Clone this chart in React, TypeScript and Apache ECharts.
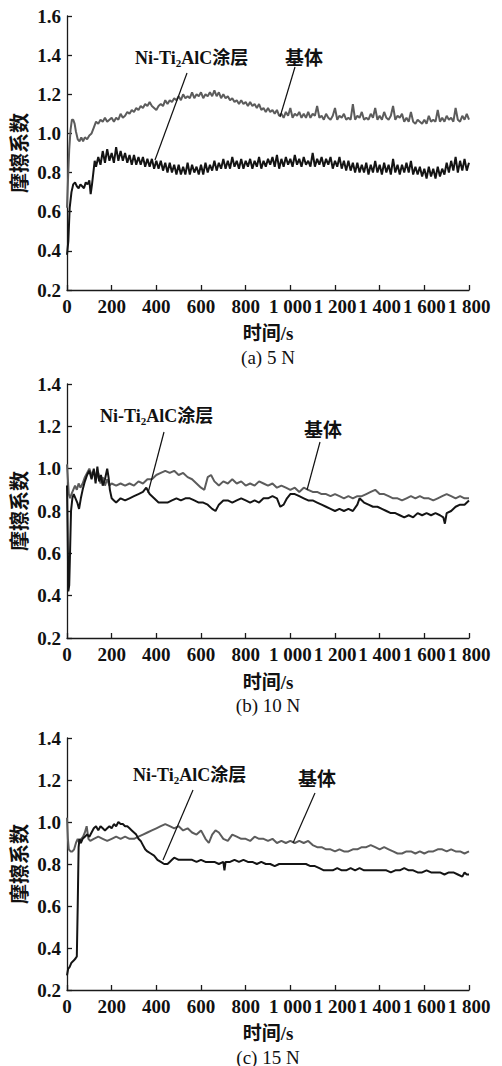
import React, { useEffect, useRef } from "react";
import * as echarts from "echarts";

// ---------- data (time s, friction coefficient) ----------
// (a) 5 N
const substrate5N: [number, number][] = [
  [0, 0.62], [5, 0.78], [10, 0.92], [16, 1.02], [22, 1.07], [28, 1.07], [34, 1.05], [40, 1.01], [48, 0.97], [56, 0.96],
  [64, 0.98], [72, 0.96], [80, 0.98], [90, 0.97], [100, 0.99], [110, 1.0], [120, 1.03], [130, 1.06],
  [140, 1.05], [150, 1.07], [160, 1.06], [170, 1.08], [180, 1.06], [190, 1.07], [200, 1.08], [210, 1.06], [220, 1.08],
  [230, 1.07], [240, 1.1], [250, 1.08], [260, 1.09], [270, 1.11], [280, 1.1], [290, 1.12], [300, 1.11], [310, 1.13],
  [320, 1.12], [330, 1.14], [340, 1.13], [350, 1.15], [360, 1.14], [370, 1.16], [380, 1.14], [390, 1.13], [400, 1.12],
  [410, 1.14], [420, 1.15], [430, 1.14], [440, 1.17], [450, 1.15], [460, 1.17], [470, 1.16], [480, 1.18], [490, 1.17],
  [500, 1.19], [510, 1.17], [520, 1.2], [530, 1.18], [540, 1.19], [550, 1.18], [560, 1.21], [570, 1.18], [580, 1.2],
  [590, 1.19], [600, 1.21], [610, 1.18], [620, 1.2], [630, 1.19], [640, 1.21], [650, 1.19], [660, 1.22], [670, 1.19],
  [680, 1.21], [690, 1.18], [700, 1.2], [710, 1.18], [720, 1.19], [730, 1.17], [740, 1.18], [750, 1.16], [760, 1.17],
  [770, 1.15], [780, 1.17], [790, 1.15], [800, 1.16], [810, 1.14], [820, 1.16], [830, 1.14], [840, 1.15], [850, 1.13],
  [860, 1.15], [870, 1.12], [880, 1.13], [890, 1.11], [900, 1.13], [910, 1.11], [920, 1.12], [930, 1.1], [940, 1.12],
  [950, 1.09], [960, 1.1], [970, 1.08], [980, 1.11], [990, 1.09], [1000, 1.13], [1010, 1.08], [1020, 1.1], [1030, 1.09],
  [1040, 1.11], [1050, 1.08], [1060, 1.1], [1070, 1.08], [1080, 1.11], [1090, 1.08], [1100, 1.1], [1110, 1.09],
  [1120, 1.14], [1130, 1.08], [1140, 1.09], [1150, 1.07], [1160, 1.1], [1170, 1.08], [1180, 1.07], [1190, 1.09],
  [1200, 1.13], [1210, 1.07], [1220, 1.09], [1230, 1.08], [1240, 1.1], [1250, 1.07], [1260, 1.08], [1270, 1.07],
  [1280, 1.15], [1290, 1.07], [1300, 1.09], [1310, 1.08], [1320, 1.11], [1330, 1.07], [1340, 1.08], [1350, 1.07],
  [1360, 1.1], [1370, 1.08], [1380, 1.13], [1390, 1.07], [1400, 1.09], [1410, 1.07], [1420, 1.11], [1430, 1.08],
  [1440, 1.07], [1450, 1.09], [1460, 1.14], [1470, 1.07], [1480, 1.09], [1490, 1.08], [1500, 1.1], [1510, 1.06],
  [1520, 1.08], [1530, 1.06], [1540, 1.11], [1550, 1.06], [1560, 1.05], [1570, 1.07], [1580, 1.06], [1590, 1.05],
  [1600, 1.07], [1610, 1.05], [1620, 1.09], [1630, 1.06], [1640, 1.07], [1650, 1.06], [1660, 1.12], [1670, 1.06],
  [1680, 1.08], [1690, 1.06], [1700, 1.09], [1710, 1.07], [1720, 1.08], [1730, 1.06], [1740, 1.13], [1750, 1.07],
  [1760, 1.06], [1770, 1.09], [1780, 1.07], [1790, 1.1], [1800, 1.07],
];
const coating5N: [number, number][] = [
  [0, 0.38], [6, 0.45], [12, 0.62], [20, 0.7], [28, 0.74], [36, 0.75], [44, 0.73], [52, 0.72], [60, 0.74], [68, 0.73],
  [76, 0.72], [84, 0.75], [92, 0.74], [100, 0.76], [106, 0.69], [112, 0.74], [118, 0.8], [124, 0.86], [130, 0.83],
  [140, 0.88], [150, 0.84], [160, 0.91], [170, 0.85], [180, 0.92], [190, 0.86], [200, 0.9], [210, 0.85], [220, 0.93],
  [230, 0.86], [240, 0.91], [250, 0.86], [260, 0.9], [270, 0.85], [280, 0.89], [290, 0.84], [300, 0.89], [310, 0.84],
  [320, 0.88], [330, 0.84], [340, 0.88], [350, 0.83], [360, 0.87], [370, 0.83], [380, 0.87], [390, 0.82], [400, 0.86],
  [410, 0.82], [420, 0.86], [430, 0.81], [440, 0.85], [450, 0.8], [460, 0.85], [470, 0.8], [480, 0.84], [490, 0.79],
  [500, 0.84], [510, 0.79], [520, 0.83], [530, 0.79], [540, 0.85], [550, 0.79], [560, 0.84], [570, 0.8], [580, 0.83],
  [590, 0.79], [600, 0.84], [610, 0.79], [620, 0.85], [630, 0.8], [640, 0.84], [650, 0.81], [660, 0.86], [670, 0.81],
  [680, 0.85], [690, 0.82], [700, 0.87], [710, 0.82], [720, 0.86], [730, 0.82], [740, 0.88], [750, 0.83], [760, 0.86],
  [770, 0.82], [780, 0.87], [790, 0.82], [800, 0.86], [810, 0.83], [820, 0.87], [830, 0.82], [840, 0.86], [850, 0.83],
  [860, 0.88], [870, 0.82], [880, 0.86], [890, 0.83], [900, 0.87], [910, 0.84], [920, 0.88], [930, 0.83], [940, 0.89],
  [950, 0.82], [960, 0.87], [970, 0.83], [980, 0.88], [990, 0.84], [1000, 0.87], [1010, 0.83], [1020, 0.89],
  [1030, 0.84], [1040, 0.87], [1050, 0.83], [1060, 0.88], [1070, 0.84], [1080, 0.86], [1090, 0.83], [1100, 0.9],
  [1110, 0.83], [1120, 0.87], [1130, 0.84], [1140, 0.88], [1150, 0.83], [1160, 0.87], [1170, 0.84], [1180, 0.88],
  [1190, 0.82], [1200, 0.86], [1210, 0.83], [1220, 0.88], [1230, 0.82], [1240, 0.86], [1250, 0.81], [1260, 0.86],
  [1270, 0.81], [1280, 0.85], [1290, 0.8], [1300, 0.85], [1310, 0.8], [1320, 0.84], [1330, 0.8], [1340, 0.85],
  [1350, 0.79], [1360, 0.84], [1370, 0.8], [1380, 0.86], [1390, 0.8], [1400, 0.84], [1410, 0.79], [1420, 0.85],
  [1430, 0.8], [1440, 0.84], [1450, 0.79], [1460, 0.87], [1470, 0.8], [1480, 0.84], [1490, 0.79], [1500, 0.84],
  [1510, 0.8], [1520, 0.85], [1530, 0.8], [1540, 0.86], [1550, 0.79], [1560, 0.83], [1570, 0.79], [1580, 0.83],
  [1590, 0.78], [1600, 0.82], [1610, 0.77], [1620, 0.83], [1630, 0.78], [1640, 0.82], [1650, 0.77], [1660, 0.83],
  [1670, 0.78], [1680, 0.82], [1690, 0.79], [1700, 0.85], [1710, 0.8], [1720, 0.86], [1730, 0.81], [1740, 0.88],
  [1750, 0.8], [1760, 0.86], [1770, 0.81], [1780, 0.87], [1790, 0.81], [1800, 0.85],
];

// (b) 10 N
const substrate10N: [number, number][] = [
  [0, 1.02], [4, 0.95], [8, 0.88], [14, 0.86], [20, 0.88], [28, 0.9], [36, 0.92], [44, 0.9], [52, 0.93], [60, 0.91],
  [70, 0.93], [80, 0.96], [90, 0.98], [100, 1.0], [110, 0.97], [120, 0.99], [130, 0.95], [140, 0.98], [150, 0.93],
  [160, 0.96], [170, 0.92], [180, 0.95], [190, 0.92], [200, 0.93], [220, 0.92], [240, 0.93], [260, 0.92], [280, 0.93],
  [300, 0.92], [320, 0.94], [340, 0.93], [360, 0.95], [380, 0.95], [400, 0.97], [420, 0.98], [440, 0.99], [460, 0.98],
  [480, 0.99], [500, 0.97], [520, 0.98], [540, 0.96], [560, 0.95], [580, 0.93], [600, 0.91], [615, 0.9], [630, 0.96],
  [645, 0.97], [660, 0.94], [680, 0.92], [700, 0.94], [720, 0.93], [740, 0.95], [760, 0.93], [780, 0.94], [800, 0.92],
  [820, 0.93], [840, 0.92], [860, 0.94], [880, 0.93], [900, 0.92], [920, 0.93], [940, 0.91], [960, 0.92], [980, 0.91],
  [1000, 0.9], [1020, 0.91], [1040, 0.89], [1060, 0.91], [1080, 0.9], [1100, 0.89], [1120, 0.89], [1140, 0.88],
  [1160, 0.88], [1180, 0.87], [1200, 0.88], [1220, 0.87], [1240, 0.86], [1260, 0.87], [1280, 0.86], [1300, 0.87],
  [1320, 0.87], [1340, 0.88], [1360, 0.89], [1380, 0.9], [1400, 0.88], [1420, 0.88], [1440, 0.87], [1460, 0.86],
  [1480, 0.86], [1500, 0.85], [1520, 0.86], [1540, 0.87], [1560, 0.86], [1580, 0.87], [1600, 0.86], [1620, 0.86],
  [1640, 0.85], [1660, 0.86], [1680, 0.87], [1700, 0.88], [1720, 0.87], [1740, 0.86], [1760, 0.87], [1780, 0.86],
  [1800, 0.86],
];
const coating10N: [number, number][] = [
  [0, 0.92], [3, 0.7], [6, 0.42], [10, 0.45], [14, 0.62], [18, 0.8], [24, 0.86], [30, 0.88], [38, 0.86], [46, 0.84],
  [54, 0.81], [62, 0.86], [70, 0.9], [80, 0.94], [90, 0.97], [100, 0.99], [110, 0.95], [120, 1.0], [128, 0.93],
  [136, 1.01], [144, 0.94], [152, 0.97], [160, 0.92], [170, 0.95], [180, 1.0], [186, 0.96], [192, 0.9], [200, 0.86],
  [210, 0.85], [220, 0.84], [240, 0.86], [260, 0.85], [280, 0.86], [300, 0.87], [320, 0.88], [340, 0.89], [355, 0.91],
  [370, 0.88], [390, 0.86], [410, 0.84], [430, 0.84], [450, 0.84], [470, 0.85], [490, 0.86], [510, 0.85], [530, 0.86],
  [550, 0.86], [570, 0.85], [590, 0.84], [610, 0.84], [630, 0.83], [650, 0.81], [665, 0.8], [680, 0.83], [700, 0.85],
  [720, 0.85], [740, 0.84], [760, 0.85], [780, 0.86], [800, 0.85], [820, 0.84], [840, 0.85], [860, 0.84], [880, 0.86],
  [900, 0.86], [920, 0.87], [940, 0.86], [955, 0.82], [970, 0.83], [985, 0.86], [1000, 0.88], [1020, 0.88],
  [1040, 0.87], [1060, 0.86], [1080, 0.85], [1100, 0.85], [1120, 0.84], [1140, 0.83], [1160, 0.82], [1180, 0.81],
  [1200, 0.8], [1220, 0.81], [1240, 0.8], [1260, 0.81], [1280, 0.8], [1300, 0.83], [1310, 0.86], [1330, 0.84],
  [1350, 0.83], [1370, 0.82], [1390, 0.82], [1410, 0.81], [1430, 0.8], [1450, 0.79], [1470, 0.79], [1490, 0.78],
  [1510, 0.77], [1530, 0.78], [1550, 0.77], [1570, 0.79], [1590, 0.78], [1610, 0.79], [1630, 0.78], [1650, 0.79],
  [1670, 0.78], [1685, 0.77], [1692, 0.74], [1700, 0.79], [1720, 0.8], [1740, 0.82], [1760, 0.83], [1780, 0.83],
  [1800, 0.85],
];

// (c) 15 N
const substrate15N: [number, number][] = [
  [0, 1.02], [4, 0.92], [8, 0.87], [16, 0.86], [24, 0.86], [32, 0.87], [40, 0.9], [48, 0.92], [56, 0.9], [64, 0.92],
  [72, 0.93], [80, 0.95], [88, 0.98], [96, 0.92], [104, 0.91], [120, 0.92], [140, 0.93], [160, 0.92], [180, 0.91],
  [200, 0.92], [220, 0.93], [240, 0.92], [260, 0.93], [280, 0.92], [300, 0.92], [320, 0.93], [340, 0.94], [360, 0.95],
  [380, 0.96], [400, 0.97], [420, 0.98], [440, 0.99], [460, 0.98], [480, 0.97], [500, 0.98], [520, 0.96], [540, 0.97],
  [560, 0.95], [580, 0.94], [600, 0.96], [620, 0.92], [635, 0.9], [650, 0.94], [665, 0.96], [680, 0.95], [700, 0.92],
  [720, 0.91], [740, 0.94], [760, 0.93], [780, 0.92], [800, 0.92], [820, 0.91], [840, 0.93], [860, 0.92], [880, 0.92],
  [900, 0.91], [920, 0.92], [940, 0.9], [960, 0.91], [980, 0.9], [1000, 0.91], [1020, 0.9], [1040, 0.91], [1060, 0.9],
  [1080, 0.91], [1100, 0.89], [1120, 0.88], [1140, 0.88], [1160, 0.87], [1180, 0.87], [1200, 0.86], [1220, 0.87],
  [1240, 0.86], [1260, 0.86], [1280, 0.87], [1300, 0.87], [1320, 0.88], [1340, 0.88], [1360, 0.89], [1380, 0.88],
  [1400, 0.87], [1420, 0.88], [1440, 0.87], [1460, 0.86], [1480, 0.85], [1500, 0.85], [1520, 0.86], [1540, 0.86],
  [1560, 0.85], [1580, 0.86], [1600, 0.85], [1620, 0.86], [1640, 0.86], [1660, 0.87], [1680, 0.87], [1700, 0.86],
  [1720, 0.87], [1740, 0.86], [1760, 0.86], [1780, 0.85], [1800, 0.86],
];
const coating15N: [number, number][] = [
  [0, 0.27], [5, 0.3], [12, 0.31], [20, 0.33], [30, 0.34], [38, 0.35], [44, 0.36], [48, 0.6], [52, 0.88], [56, 0.92],
  [62, 0.9], [70, 0.92], [80, 0.93], [90, 0.94], [100, 0.93], [110, 0.95], [120, 0.97], [130, 0.98], [140, 0.96],
  [150, 0.98], [160, 0.97], [170, 0.96], [180, 0.97], [190, 0.98], [200, 0.97], [210, 0.99], [220, 0.98], [230, 1.0],
  [240, 0.99], [250, 0.99], [260, 0.98], [270, 0.98], [280, 0.97], [290, 0.96], [300, 0.95], [310, 0.94], [320, 0.92],
  [330, 0.91], [340, 0.89], [350, 0.87], [360, 0.86], [375, 0.85], [390, 0.84], [405, 0.82], [420, 0.81], [435, 0.8],
  [450, 0.8], [460, 0.81], [470, 0.82], [480, 0.83], [500, 0.82], [520, 0.82], [540, 0.82], [560, 0.82], [580, 0.81],
  [600, 0.82], [620, 0.81], [640, 0.81], [660, 0.81], [680, 0.8], [700, 0.81], [705, 0.77], [710, 0.81], [730, 0.81],
  [750, 0.82], [770, 0.81], [790, 0.82], [810, 0.81], [830, 0.81], [850, 0.8], [870, 0.81], [890, 0.8], [910, 0.8],
  [930, 0.79], [950, 0.8], [970, 0.8], [990, 0.8], [1010, 0.8], [1030, 0.8], [1050, 0.8], [1070, 0.8], [1090, 0.79],
  [1110, 0.79], [1130, 0.78], [1150, 0.77], [1170, 0.77], [1190, 0.77], [1210, 0.78], [1230, 0.77], [1250, 0.77],
  [1270, 0.78], [1290, 0.77], [1310, 0.78], [1330, 0.77], [1350, 0.77], [1370, 0.77], [1390, 0.77], [1410, 0.77],
  [1430, 0.77], [1450, 0.76], [1470, 0.77], [1490, 0.77], [1510, 0.78], [1530, 0.77], [1550, 0.77], [1570, 0.76],
  [1590, 0.76], [1610, 0.77], [1630, 0.76], [1650, 0.76], [1670, 0.76], [1690, 0.75], [1710, 0.76], [1730, 0.76],
  [1750, 0.75], [1770, 0.74], [1780, 0.76], [1790, 0.75], [1800, 0.75],
];

const panelCaptions = ["(a) 5 N", "(b) 10 N", "(c) 15 N"];
const yMaxes = [1.6, 1.4, 1.4];
const xAxisName = "时间/s";
const yAxisName = "摩擦系数";
const coatingLabel = "Ni-Ti₂AlC涂层";
const substrateLabel = "基体";

const SERIF = '"Liberation Serif", "Times New Roman", "Noto Sans CJK SC", serif';
const GRAY = "#5c5c5c";
const BLACK = "#141414";

// layout
const grids = [
  { left: 67, top: 16, width: 402, height: 274 },
  { left: 67, top: 384, width: 402, height: 254 },
  { left: 67, top: 738, width: 402, height: 252 },
];
const xNameY = [333, 682, 1033];
const captionY = [357, 705, 1057];
const coatLabelPos = [[135, 58], [100, 416], [133, 775]];
const subLabelPos = [[285, 58], [304, 430], [298, 779]];
const coatLeader = [[187, 73, 155, 160], [164, 432, 148, 493], [193, 790, 163, 860]];
const subLeader = [[295, 67, 280, 117], [320, 442, 307, 490], [315, 793, 293, 843]];

function fmtX(v: number) {
  if (v >= 1000) {
    const th = Math.floor(v / 1000);
    const rest = String(v % 1000).padStart(3, "0");
    return th + " " + rest;
  }
  return String(v);
}

export default function App() {
  const ref = useRef<HTMLDivElement>(null);
  useEffect(() => {
    if (!ref.current) return;
    const chart = echarts.init(ref.current, undefined, { renderer: "svg" });
    const seriesData = [
      [substrate5N, coating5N],
      [substrate10N, coating10N],
      [substrate15N, coating15N],
    ];
    const widths = [2, 2, 2];
    const xAxes: any[] = [];
    const yAxes: any[] = [];
    const series: any[] = [];
    const graphic: any[] = [];
    grids.forEach((g, i) => {
      xAxes.push({
        type: "value",
        gridIndex: i,
        min: 0,
        max: 1800,
        interval: 200,
        axisLine: { show: true, lineStyle: { color: "#1a1a1a", width: 1.3 } },
        axisTick: { show: true, inside: true, length: 5, lineStyle: { color: "#1a1a1a", width: 1.3 } },
        splitLine: { show: false },
        axisLabel: {
          margin: 7,
          fontFamily: SERIF,
          fontWeight: "bold",
          fontSize: 19,
          color: "#111",
          formatter: (v: number) => fmtX(v),
        },
      });
      yAxes.push({
        type: "value",
        gridIndex: i,
        min: 0.2,
        max: yMaxes[i],
        interval: 0.2,
        axisLine: { show: true, lineStyle: { color: "#1a1a1a", width: 1.3 } },
        axisTick: { show: true, inside: true, length: 5, lineStyle: { color: "#1a1a1a", width: 1.3 } },
        splitLine: { show: false },
        axisLabel: {
          margin: 6,
          fontFamily: SERIF,
          fontWeight: "bold",
          fontSize: 19,
          color: "#111",
          formatter: (v: number) => v.toFixed(1),
        },
      });
      series.push({
        type: "line",
        name: substrateLabel + i,
        xAxisIndex: i,
        yAxisIndex: i,
        data: seriesData[i][0],
        showSymbol: false,
        symbol: "none",
        lineStyle: { color: GRAY, width: widths[i] },
        z: 2,
      });
      series.push({
        type: "line",
        name: "coating" + i,
        xAxisIndex: i,
        yAxisIndex: i,
        data: seriesData[i][1],
        showSymbol: false,
        symbol: "none",
        lineStyle: { color: BLACK, width: widths[i] },
        z: 3,
      });
      const cy = g.top + g.height / 2;
      graphic.push({
        type: "text",
        x: 20,
        y: cy,
        rotation: Math.PI / 2,
        style: {
          text: yAxisName,
          font: `bold 20px ${SERIF}`,
          fill: "#111",
          align: "center",
          verticalAlign: "middle",
        },
      });
      graphic.push({
        type: "text",
        x: g.left + g.width / 2,
        y: xNameY[i],
        style: {
          text: xAxisName,
          font: `bold 19px ${SERIF}`,
          fill: "#111",
          align: "center",
          verticalAlign: "middle",
        },
      });
      graphic.push({
        type: "text",
        x: g.left + g.width / 2,
        y: captionY[i],
        style: {
          text: panelCaptions[i],
          font: `19px ${SERIF}`,
          fill: "#111",
          align: "center",
          verticalAlign: "middle",
        },
      });
      const parts = coatingLabel.split("₂");
      graphic.push({
        type: "text",
        x: coatLabelPos[i][0],
        y: coatLabelPos[i][1],
        style: {
          text: `{a|${parts[0]}}{s|2}{a|${parts[1]}}`,
          align: "left",
          verticalAlign: "middle",
          rich: {
            a: { fontFamily: SERIF, fontWeight: "bold", fontSize: 18, fill: "#111", color: "#111" },
            s: {
              fontFamily: SERIF,
              fontWeight: "bold",
              fontSize: 11,
              fill: "#111",
              color: "#111",
              padding: [10, 0, 0, 0],
            },
          },
        },
      });
      graphic.push({
        type: "text",
        x: subLabelPos[i][0],
        y: subLabelPos[i][1],
        style: {
          text: substrateLabel,
          font: `bold 19px ${SERIF}`,
          fill: "#111",
          align: "left",
          verticalAlign: "middle",
        },
      });
      [coatLeader[i], subLeader[i]].forEach((l) => {
        graphic.push({
          type: "line",
          shape: { x1: l[0], y1: l[1], x2: l[2], y2: l[3] },
          style: { stroke: "#111", lineWidth: 1.2 },
          z: 10,
        });
      });
    });

    chart.setOption({
      animation: false,
      backgroundColor: "#ffffff",
      grid: grids.map((g) => ({ ...g, containLabel: false })),
      xAxis: xAxes,
      yAxis: yAxes,
      series,
      graphic,
    });
    return () => chart.dispose();
  }, []);
  return (
    <div
      ref={ref}
      style={{ position: "fixed", left: 0, top: 0, width: 502, height: 1066, background: "#fff" }}
    />
  );
}
